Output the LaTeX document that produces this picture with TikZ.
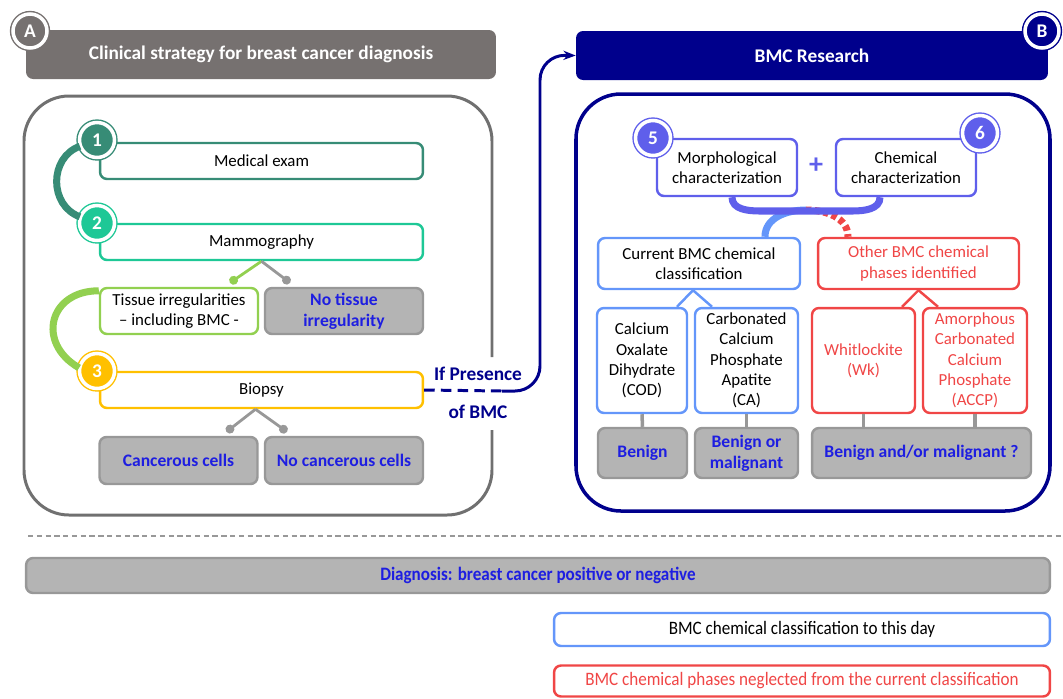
\documentclass[tikz,border=0pt]{standalone}
\usepackage{fontspec}
\setmainfont{Carlito}
\newfontfamily\narrowfont[FakeStretch=0.9]{Carlito}
\usetikzlibrary{arrows.meta}
\definecolor{headgrey}{RGB}{118,113,112}
\definecolor{panelgrey}{RGB}{112,112,112}
\definecolor{bmcnavy}{RGB}{0,0,140}
\definecolor{stepone}{RGB}{55,140,118}
\definecolor{steptwo}{RGB}{30,200,150}
\definecolor{tissuegreen}{RGB}{146,208,80}
\definecolor{stepthree}{RGB}{255,192,0}
\definecolor{boxfill}{RGB}{180,180,180}
\definecolor{boxline}{RGB}{152,152,152}
\definecolor{txtblue}{RGB}{30,30,225}
\definecolor{charviolet}{RGB}{95,95,235}
\definecolor{curblue}{RGB}{100,150,250}
\definecolor{otherred}{RGB}{240,70,70}
\begin{document}
\fontsize{9.6}{11.6}\selectfont
\begin{tikzpicture}[x=0.02cm, y=-0.02cm,
    stepbox/.style={draw=#1, line width=1.4pt, rounded corners=0.14cm, fill=white, align=center, inner sep=1pt},
    greybox/.style={draw=boxline, fill=boxfill, line width=1.4pt, rounded corners=0.14cm, text=txtblue, font=\fontsize{10}{12}\selectfont\bfseries, align=center, inner sep=1pt},
    numdot/.style={circle, draw=#1, fill=#1, double=white, double distance=2pt, line width=0.8pt, minimum size=0.7cm, inner sep=0pt, text=white, font=\fontsize{11}{13}\selectfont\bfseries},
    header/.style={fill=#1, rounded corners=0.14cm, text=white, font=\fontsize{11}{13}\selectfont\bfseries, minimum width=9.4cm, minimum height=0.98cm},
    link/.style={line width=1.6pt, -{Circle[length=5pt]}},
  ]
  \useasboundingbox (0,0) rectangle (1063,698);

  % panels and headers
  \draw[panelgrey, line width=1.7pt, rounded corners=0.9cm] (492,357) -- (492,96) -- (24,96) -- (24,515) -- (492,515) -- (492,430);
  \draw[bmcnavy, line width=2pt, rounded corners=0.9cm] (576,94) rectangle (1050,511);
  \node[header=headgrey] (hdA) at (261,54.5) {Clinical strategy for breast cancer diagnosis};
  \node[header=bmcnavy, minimum width=9.44cm] (hdB) at (812,55.5) {BMC Research};
  \node[numdot=headgrey, minimum size=0.68cm] (capA) at (30,31) {A};
  \node[numdot=bmcnavy, minimum size=0.68cm] (capB) at (1042,31) {B};

  % clinical strategy
  \node[stepbox=stepone, minimum width=6.46cm, minimum height=0.72cm] (med) at (261.5,161) {Medical exam};
  \node[stepbox=steptwo, minimum width=6.46cm, minimum height=0.72cm] (mam) at (261.5,242) {Mammography};
  \node[stepbox=tissuegreen, minimum width=3.16cm, minimum height=0.92cm] (tis) at (179,311) {Tissue irregularities\\ -- including BMC -};
  \node[greybox, minimum width=3.16cm, minimum height=0.92cm] (nti) at (344,311) {No tissue\\ irregularity};
  \node[stepbox=stepthree, minimum width=6.46cm, minimum height=0.72cm] (bio) at (261.5,390) {Biopsy};
  \node[greybox, minimum width=3.16cm, minimum height=0.94cm] (can) at (178.5,460.5) {Cancerous cells};
  \node[greybox, minimum width=3.16cm, minimum height=0.94cm] (nca) at (344,460.5) {No cancerous cells};

  \node[numdot=stepone] (n1) at (97,140) {1};
  \node[numdot=steptwo] (n2) at (97,223) {2};
  \node[numdot=stepthree] (n3) at (97,371) {3};

  \draw[stepone, line width=4pt] (n1.200) to[out=200, in=160, looseness=1.2] (n2.160);
  \draw[tissuegreen, line width=4pt] ([yshift=-0.08cm]tis.north west) to[out=180, in=150, looseness=1.6] (n3.170);

  \draw[link, tissuegreen] (mam.south) -- ([xshift=1.02cm, yshift=0.08cm]tis.north);
  \draw[link, boxline] (mam.south) -- ([xshift=-1.08cm, yshift=0.08cm]nti.north);
  \draw[link, boxline] ([xshift=-0.12cm]bio.south) -- ([xshift=0.96cm, yshift=0.08cm]can.north);
  \draw[link, boxline] ([xshift=-0.12cm]bio.south) -- ([xshift=-1.14cm, yshift=0.08cm]nca.north);

  % if presence of BMC
  \coordinate (turn) at (502,391);
  \draw[bmcnavy, line width=1.7pt, dash pattern=on 6pt off 3.5pt] (bio.east) -- (turn);
  \draw[bmcnavy, line width=1.7pt, -{Stealth[length=7pt]}, rounded corners=0.5cm] (turn) -- (540,391) -- (540,55) -- (hdB.west);
  \node[text=bmcnavy, font=\fontsize{11}{13}\selectfont\bfseries] (ifp) at (478,374) {If Presence};
  \node[text=bmcnavy, font=\fontsize{11}{13}\selectfont\bfseries] (ofb) at (478,412) {of BMC};

  % BMC research
  \node[stepbox=charviolet, minimum width=2.8cm, minimum height=1.14cm] (mor) at (727,167.5) {Morphological\\ characterization};
  \node[stepbox=charviolet, minimum width=2.8cm, minimum height=1.14cm] (che) at (906,167.5) {Chemical\\ characterization};
  \node[numdot=charviolet] (n5) at (653,138) {5};
  \node[numdot=charviolet] (n6) at (980,133) {6};
  \node[text=charviolet, font=\fontsize{16}{16}\selectfont\bfseries] (plus) at (816,166) {+};

  \node[stepbox=curblue, minimum width=4.04cm, minimum height=1.02cm] (cur) at (699,263.5) {Current BMC chemical\\ classification};
  \node[stepbox=otherred, text=otherred, minimum width=4.02cm, minimum height=1.02cm] (oth) at (918.5,263.5) {Other BMC chemical\\ phases identified};

  \node[stepbox=curblue, minimum width=1.8cm, minimum height=2.1cm] (cod) at (642,360.5) {Calcium\\ Oxalate\\ Dihydrate\\ (COD)};
  \node[stepbox=curblue, minimum width=2.06cm, minimum height=2.1cm] (cap) at (746.5,360.5) {Carbonated\\ Calcium\\ Phosphate\\ Apatite\\ (CA)};
  \node[stepbox=otherred, text=otherred, minimum width=2.06cm, minimum height=2.1cm] (wk) at (863.5,360.5) {Whitlockite\\ (Wk)};
  \node[stepbox=otherred, text=otherred, minimum width=2.08cm, minimum height=2.1cm] (acp) at (975,360.5) {Amorphous\\ Carbonated\\ Calcium\\ Phosphate\\ (ACCP)};

  \node[greybox, minimum width=1.78cm, minimum height=1cm] (ben) at (642.5,453) {Benign};
  \node[greybox, minimum width=2.06cm, minimum height=1cm] (bom) at (746.5,453) {Benign or\\ malignant};
  \node[greybox, minimum width=4.38cm, minimum height=1cm] (bam) at (921.5,453) {Benign and/or malignant ?};

  \coordinate (ubot) at (806,210);
  \coordinate (ul) at (760,211);
  \coordinate (ur) at (852,211);
  \draw[curblue, line width=4pt] (ubot) to[out=180, in=90] ([xshift=1.32cm]cur.north);
  \draw[otherred, line width=4pt, dash pattern=on 3pt off 2pt] (ubot) to[out=0, in=90] ([xshift=-1.41cm]oth.north);
  \draw[charviolet, line width=4pt] ([xshift=0.1cm]mor.south) to[out=-90, in=180] (ul) -- (ur) to[out=0, in=-90] ([xshift=-0.52cm]che.south);

  \draw[curblue, line width=1.4pt] ([xshift=-0.12cm]cur.south) -- ([xshift=0.7cm]cod.north);
  \draw[curblue, line width=1.4pt] ([xshift=-0.12cm]cur.south) -- ([xshift=-0.69cm]cap.north);
  \draw[otherred, line width=1.4pt] (oth.south) -- ([xshift=0.77cm]wk.north);
  \draw[otherred, line width=1.4pt] (oth.south) -- ([xshift=-0.74cm]acp.north);

  \draw[boxline, line width=2pt] (cod.south) -- (ben.north);
  \draw[boxline, line width=2pt] (cap.south) -- (bom.north);
  \draw[boxline, line width=2pt] (wk.south) -- (wk.south |- bam.north);
  \draw[boxline, line width=2pt] (acp.south) -- (acp.south |- bam.north);

  % bottom
  \coordinate (sepL) at (28,536);
  \coordinate (sepR) at (1063,536);
  \draw[boxline, line width=0.8pt, dash pattern=on 3pt off 2pt] (sepL) -- (sepR);
  \node[greybox, font=\narrowfont\fontsize{10.8}{12}\selectfont\bfseries, minimum width=20.48cm, minimum height=0.7cm] (dia) at (538,575.5) {Diagnosis: breast cancer positive or negative};
  \node[stepbox=curblue, font=\narrowfont\fontsize{10.8}{12}\selectfont, minimum width=9.92cm, minimum height=0.66cm] (lg1) at (802,629.5) {BMC chemical classification to this day};
  \node[stepbox=otherred, text=otherred, font=\narrowfont\fontsize{10.8}{12}\selectfont, minimum width=9.92cm, minimum height=0.62cm] (lg2) at (802,681) {BMC chemical phases neglected from the current classification};
\end{tikzpicture}
\end{document}
